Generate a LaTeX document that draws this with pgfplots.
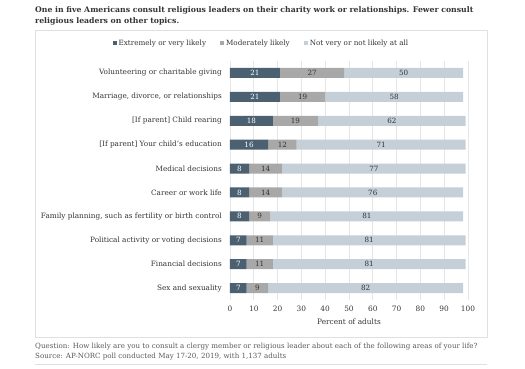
\documentclass[border=0pt]{standalone}
\usepackage{pgfplots}
\pgfplotsset{compat=1.18}
\usepackage{fontspec}
\setmainfont{DejaVu Serif}
\definecolor{cdark}{HTML}{4B6070}
\definecolor{cmid}{HTML}{A8A8A8}
\definecolor{clight}{HTML}{C4CFD7}
\definecolor{ctext}{HTML}{333333}
\definecolor{cgrid}{HTML}{E6E6E6}
\begin{document}
\begin{tikzpicture}[x=1pt,y=1pt]
\path[use as bounding box] (0,0) rectangle (525,369);
% title
\node[anchor=west,font=\fontsize{7.75}{10}\selectfont\bfseries,text=ctext,inner sep=0pt] at (35,359) {One in five Americans consult religious leaders on their charity work or relationships. Fewer consult};
\node[anchor=west,font=\fontsize{7.75}{10}\selectfont\bfseries,text=ctext,inner sep=0pt] at (35,347.5) {religious leaders on other topics.};
% panel
\draw[draw=black!12,line width=0.6pt] (35,32) rectangle (487,339);
% footnote
\node[anchor=west,font=\fontsize{7.1}{9}\selectfont,text=black!65,inner sep=0pt] at (35,22) {Question: How likely are you to consult a clergy member or religious leader about each of the following areas of your life?};
\node[anchor=west,font=\fontsize{7.1}{9}\selectfont,text=black!65,inner sep=0pt] at (35,12) {Source: AP-NORC poll conducted May 17-20, 2019, with 1,137 adults};
\draw[draw=black!12,line width=0.6pt] (35,5) -- (487,5);
\begin{axis}[
  at={(230pt,69pt)}, anchor=south west,
  scale only axis, width=238pt, height=239pt,
  xbar stacked, bar width=10pt,
  xmin=0, xmax=100, ymin=-0.5, ymax=9.5,
  y dir=reverse,
  axis line style={draw=none},
  major tick length=0pt,
  xtick={0,10,...,100},
  xmajorgrids, grid style={cgrid,line width=0.8pt},
  ytick={0,...,9},
  yticklabels={Volunteering or charitable giving,{Marriage, divorce, or relationships},{[If parent] Child rearing},{[If parent] Your child’s education},Medical decisions,Career or work life,{Family planning, such as fertility or birth control},Political activity or voting decisions,Financial decisions,Sex and sexuality},
  yticklabel style={anchor=east,inner sep=0pt,xshift=-8pt,font=\fontsize{7.3}{9}\selectfont,text=ctext},
  xticklabel style={anchor=center,inner sep=0pt,yshift=-9pt,font=\fontsize{7.4}{9}\selectfont,text=ctext},
  /pgf/number format/assume math mode=true,
  xlabel={Percent of adults},
  xlabel style={at={(axis description cs:0.5,-0.092)},anchor=center,inner sep=0pt,font=\fontsize{7.4}{9}\selectfont,text=ctext},
  visualization depends on={rawx \as \rawx},
  nodes near coords={\pgfmathprintnumber[fixed,precision=0]{\rawx}},
  every node near coord/.append style={anchor=center,inner sep=0pt,font=\fontsize{7.2}{9}\selectfont},
  legend columns=3,
  legend style={draw=none,fill=none,at={(0.132,1.075)},anchor=center,font=\fontsize{7.2}{9}\selectfont,text=ctext,inner sep=0pt,
    /tikz/every even column/.append style={column sep=12pt}},
  legend image code/.code={\fill[#1,draw=none] (0pt,-2pt) rectangle (4pt,2pt);},
  legend cell align=left,
]
\addplot[fill=cdark,draw=none,every node near coord/.append style={text=white}] coordinates {
 (21,0) (21,1) (18,2) (16,3) (8,4) (8,5) (8,6) (7,7) (7,8) (7,9)};
\addplot[fill=cmid,draw=none,every node near coord/.append style={text=ctext}] coordinates {
 (27,0) (19,1) (19,2) (12,3) (14,4) (14,5) (9,6) (11,7) (11,8) (9,9)};
\addplot[fill=clight,draw=none,every node near coord/.append style={text=ctext}] coordinates {
 (50,0) (58,1) (62,2) (71,3) (77,4) (76,5) (81,6) (81,7) (81,8) (82,9)};
\legend{Extremely or very likely,Moderately likely,Not very or not likely at all}
\end{axis}
\end{tikzpicture}
\end{document}
